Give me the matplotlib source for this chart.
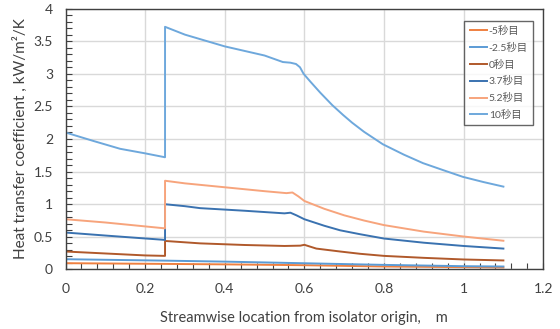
import matplotlib
matplotlib.use("Agg")
import matplotlib.pyplot as plt
from matplotlib.ticker import MultipleLocator

plt.rcParams['font.family'] = ['Lato', 'Noto Sans CJK JP', 'DejaVu Sans']

labels = ['-5秒目', '-2.5秒目', '0秒目', '3.7秒目', '5.2秒目', '10秒目']
colors = ['#EF8040', '#5B9BD5', '#B0592B', '#3A72B0', '#F7A47C', '#6EA8DC']

x_m5 = [0, 0.25, 0.4, 0.6, 0.8, 1.0, 1.1]
y_m5 = [0.096, 0.085, 0.078, 0.065, 0.045, 0.035, 0.03]

x_m25 = [0, 0.25, 0.4, 0.6, 0.8, 1.0, 1.1]
y_m25 = [0.157, 0.135, 0.12, 0.095, 0.07, 0.05, 0.045]

x_0 = [0, 0.1, 0.2, 0.25, 0.25, 0.338, 0.45, 0.55, 0.59, 0.60, 0.63, 0.69, 0.74, 0.8, 0.9, 1.0, 1.1]
y_0 = [0.275, 0.245, 0.215, 0.208, 0.437, 0.40, 0.375, 0.36, 0.365, 0.378, 0.32, 0.275, 0.24, 0.208, 0.178, 0.153, 0.138]

x_37 = [0, 0.1, 0.2, 0.25, 0.25, 0.3, 0.338, 0.45, 0.55, 0.565, 0.58, 0.6, 0.65, 0.69, 0.74, 0.8, 0.9, 1.0, 1.1]
y_37 = [0.566, 0.52, 0.475, 0.453, 1.00, 0.97, 0.94, 0.90, 0.86, 0.87, 0.83, 0.77, 0.67, 0.60, 0.54, 0.474, 0.41, 0.36, 0.32]

x_52 = [0, 0.1, 0.2, 0.25, 0.25, 0.3, 0.4, 0.5, 0.555, 0.57, 0.585, 0.6, 0.65, 0.7, 0.75, 0.8, 0.9, 1.0, 1.1]
y_52 = [0.77, 0.72, 0.66, 0.63, 1.36, 1.32, 1.26, 1.20, 1.17, 1.18, 1.12, 1.05, 0.93, 0.83, 0.75, 0.68, 0.58, 0.505, 0.44]

x_10 = [0, 0.07, 0.137, 0.2, 0.25, 0.25, 0.30, 0.40, 0.50, 0.546, 0.565, 0.579, 0.589, 0.598, 0.615, 0.64,
        0.67, 0.697, 0.72, 0.75, 0.797, 0.85, 0.898, 0.95, 0.998, 1.05, 1.10]
y_10 = [2.10, 1.97, 1.85, 1.78, 1.72, 3.72, 3.60, 3.42, 3.28, 3.18, 3.17, 3.15, 3.10, 3.00, 2.88, 2.71,
        2.52, 2.37, 2.25, 2.11, 1.92, 1.76, 1.63, 1.52, 1.42, 1.34, 1.27]

series = [(x_m5, y_m5), (x_m25, y_m25), (x_0, y_0), (x_37, y_37), (x_52, y_52), (x_10, y_10)]

fig = plt.figure(figsize=(5.6, 3.29), dpi=100)
ax = fig.add_axes([0.117, 0.181, 0.853, 0.793])

for (xs, ys), lab, c in zip(series, labels, colors):
    ax.plot(xs, ys, color=c, lw=1.4, label=lab)

ax.set_xlim(0, 1.2)
ax.set_ylim(0, 4)
ax.xaxis.set_minor_locator(MultipleLocator(0.04))
ax.yaxis.set_minor_locator(MultipleLocator(0.1))
ax.set_xticks([0, 0.2, 0.4, 0.6, 0.8, 1.0, 1.2])
ax.set_xticklabels(['0', '0.2', '0.4', '0.6', '0.8', '1', '1.2'])
ax.set_yticks([0, 0.5, 1, 1.5, 2, 2.5, 3, 3.5, 4])
ax.set_yticklabels(['0', '0.5', '1', '1.5', '2', '2.5', '3', '3.5', '4'])

ax.grid(True, which='major', color='#D9D9D9', lw=1.0)
ax.set_axisbelow(True)
ax.tick_params(which='both', direction='in', length=4, width=0.8, color='#404040',
               labelsize=10, labelcolor='#404040', top=False, right=False)
ax.tick_params(axis='y', which='both', pad=9)
ax.tick_params(axis='x', which='both', pad=10)
for s in ax.spines.values():
    s.set_color('#404040')
    s.set_linewidth(1.0)

ax.set_xlabel('Streamwise location from isolator origin,    m', fontsize=10.5, color='#404040', labelpad=11)
ax.set_ylabel('Heat transfer coefficient , kW/m²/K', fontsize=11, color='#404040', labelpad=4)

leg = ax.legend(loc='upper right', bbox_to_anchor=(0.979, 0.953), borderaxespad=0,
                fontsize=7.5, frameon=True, fancybox=False, handlelength=1.7,
                handletextpad=0.15, labelspacing=0.65, borderpad=0.5)
leg.get_frame().set_edgecolor('#404040')
leg.get_frame().set_linewidth(1.0)
for t in leg.get_texts():
    t.set_color('#595959')

fig.savefig('out.png', dpi=100)
